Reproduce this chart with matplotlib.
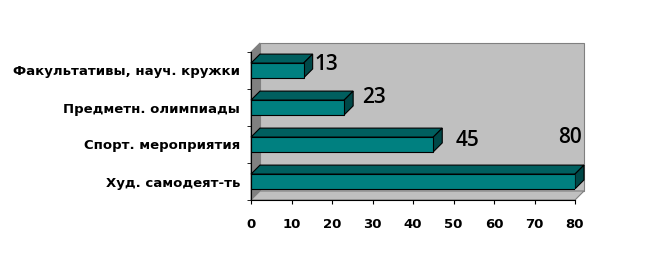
import matplotlib
matplotlib.use('Agg')
import matplotlib.pyplot as plt
from matplotlib.patches import Polygon

categories = ['Худ. самодеят-ть', 'Спорт. мероприятия', 'Предметн. олимпиады', 'Факультативы, науч. кружки']
values = [80, 45, 23, 13]
xticks = [0, 10, 20, 30, 40, 50, 60, 70, 80]

# label placement offsets (data units), hand-tuned like the original
lab_dx = [-4.2, 5.5, 4.5, 2.6]
lab_dy = [1.18, 0.12, 0.28, 0.15]

W, H = 670, 271
fig = plt.figure(figsize=(W / 100, H / 100), dpi=100)
ax = fig.add_axes([251 / W, (H - 200) / H, (575 - 251) / W, (200 - 52) / H])
ax.set_xlim(0, 80)
ax.set_ylim(-0.5, 3.5)
ax.patch.set_visible(False)

# depth of the 3d box in data units (9 px each way)
DX = 9 / (324 / 80)
DY = 9 / 37
x0, x1, y0, y1 = 0, 80, -0.5, 3.5

def poly(pts, fc, ec, z, lw=0.8):
    ax.add_patch(Polygon(pts, closed=True, facecolor=fc, edgecolor=ec, lw=lw, zorder=z, clip_on=False))

# walls
poly([(x0 + DX, y0 + DY), (x1 + DX, y0 + DY), (x1 + DX, y1 + DY), (x0 + DX, y1 + DY)], '#c0c0c0', '#808080', 0)
poly([(x0, y0), (x0 + DX, y0 + DY), (x0 + DX, y1 + DY), (x0, y1)], '#808080', '#808080', 0.5)
poly([(x0, y0), (x1, y0), (x1 + DX, y0 + DY), (x0 + DX, y0 + DY)], '#c0c0c0', '#808080', 0.6)

h = 0.4
ypos = list(range(len(categories)))
ax.barh(ypos, values, height=h, color='#008080', edgecolor='black', lw=0.8, zorder=3)
for y, v in zip(ypos, values):
    t = y + h / 2
    b = y - h / 2
    poly([(0, t), (v, t), (v + DX, t + DY), (DX, t + DY)], '#005f5f', 'black', 2)
    poly([(v, b), (v, t), (v + DX, t + DY), (v + DX, b + DY)], '#004848', 'black', 2)

for y, v, ddx, ddy in zip(ypos, values, lab_dx, lab_dy):
    ax.text(v + ddx, y + ddy, str(v), ha='left', va='center', fontsize=15,
            family='Open Sans', fontweight='semibold', color='black', zorder=5)

ax.spines['top'].set_visible(False)
ax.spines['right'].set_visible(False)
ax.spines['left'].set_zorder(4)
ax.spines['bottom'].set_zorder(4)
ax.set_xticks(xticks)
ax.set_xticklabels([str(t) for t in xticks], fontsize=9.5, fontweight='bold', family='DejaVu Sans')
ax.set_yticks(ypos)
ax.set_yticklabels(categories, fontsize=9.5, fontweight='bold', family='DejaVu Sans')
ax.set_yticks([-0.5, 0.5, 1.5, 2.5, 3.5], minor=True)
ax.tick_params(axis='y', which='major', length=0, pad=8)
ax.tick_params(axis='y', which='minor', length=3, direction='out')
ax.tick_params(axis='x', length=3, direction='out', pad=10)

plt.savefig('out.png', dpi=100)
